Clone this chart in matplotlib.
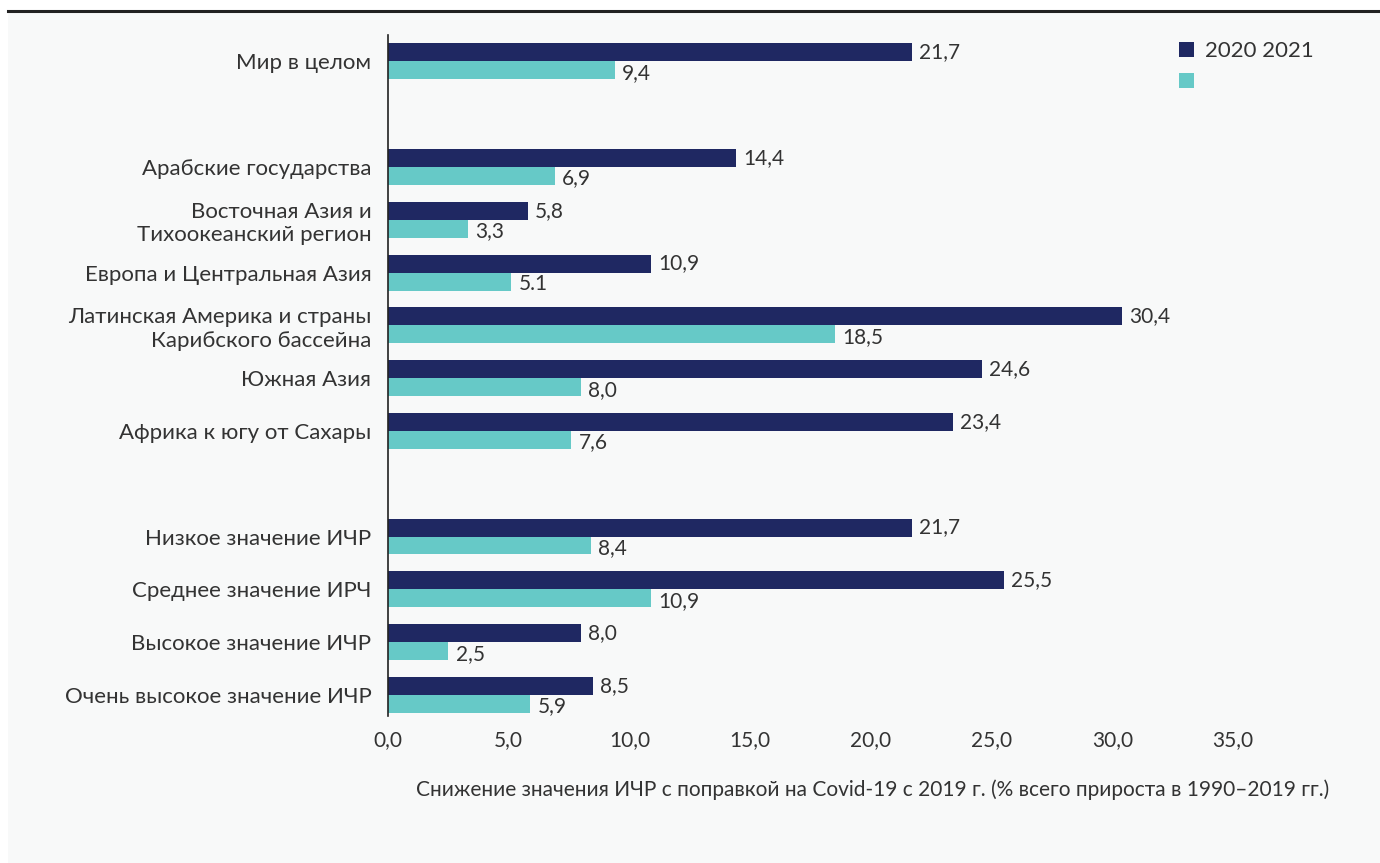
import matplotlib
matplotlib.use('Agg')
import matplotlib.pyplot as plt
import matplotlib.patches as mpatches
import numpy as np

plt.rcParams['font.family'] = ['Lato', 'Noto Sans', 'DejaVu Sans']

# Data (slot index on the y axis: gaps at 1 and 8)
categories = ['Мир в целом',
              'Арабские государства',
              'Восточная Азия и\nТихоокеанский регион',
              'Европа и Центральная Азия',
              'Латинская Америка и страны\nКарибского бассейна',
              'Южная Азия',
              'Африка к югу от Сахары',
              'Низкое значение ИЧР',
              'Среднее значение ИРЧ',
              'Высокое значение ИЧР',
              'Очень высокое значение ИЧР']
slots = [0, 2, 3, 4, 5, 6, 7, 9, 10, 11, 12]
vals_2020 = [21.7, 14.4, 5.8, 10.9, 30.4, 24.6, 23.4, 21.7, 25.5, 8.0, 8.5]
vals_2021 = [9.4, 6.9, 3.3, 5.1, 18.5, 8.0, 7.6, 8.4, 10.9, 2.5, 5.9]
labels_2020 = ['21,7', '14,4', '5,8', '10,9', '30,4', '24,6', '23,4', '21,7', '25,5', '8,0', '8,5']
labels_2021 = ['9,4', '6,9', '3,3', '5.1', '18,5', '8,0', '7,6', '8,4', '10,9', '2,5', '5,9']
xticks = [0, 5, 10, 15, 20, 25, 30, 35]

c_dark = '#1f2862'
c_teal = '#66c9c7'
txt = '#333333'
bg = '#f8f9f9'
fs = 15

W, H = 1380, 863
fig = plt.figure(figsize=(W / 100, H / 100), dpi=100, facecolor='white')

# panel background + top rule
fig.patches.append(mpatches.Rectangle((8 / W, 0), 1 - 8 / W, 1 - 12 / H,
                                      transform=fig.transFigure, facecolor=bg,
                                      edgecolor='none', zorder=-5))
fig.add_artist(plt.Line2D([8 / W, 1], [1 - 11 / H, 1 - 11 / H],
                          transform=fig.transFigure, color='#222222', lw=2.2))

ax = fig.add_axes([388 / W, 1 - 716 / H, (1233 - 388) / W, (716 - 35) / H])
ax.set_facecolor('none')

y = np.array(slots, dtype=float)
bh = 0.34
ax.barh(y - bh / 2, vals_2020, height=bh, color=c_dark, label='2020 2021')
ax.barh(y + bh / 2, vals_2021, height=bh, color=c_teal, label=' ')

for yy, v, s in zip(y, vals_2020, labels_2020):
    ax.text(v + 0.3, yy - bh / 2, s, va='center', ha='left', fontsize=fs, color=txt)
for yy, v, s in zip(y, vals_2021, labels_2021):
    ax.text(v + 0.3, yy + bh / 2 + 0.05, s, va='center', ha='left', fontsize=fs, color=txt)

ax.set_xlim(0, 35)
ax.set_ylim(12.4, -0.5)
ax.set_yticks(y)
ax.set_yticklabels(categories, fontsize=16, color=txt)
ax.set_xticks(xticks)
ax.set_xticklabels([f'{t:.1f}'.replace('.', ',') for t in xticks], fontsize=fs, color=txt)
ax.tick_params(axis='both', length=0)
ax.tick_params(axis='y', pad=12)
ax.tick_params(axis='x', pad=10)
for sp in ['top', 'right', 'bottom']:
    ax.spines[sp].set_visible(False)
ax.spines['left'].set_color('#222222')
ax.spines['left'].set_linewidth(1.2)

leg = ax.legend(loc='upper left', bbox_to_anchor=(0.912, 1.02), frameon=False,
                fontsize=16, handlelength=0.7, handleheight=0.7, handletextpad=0.5,
                labelspacing=0.5, labelcolor=txt)

fig.text(873 / W, 1 - 790 / H,
         'Снижение значения ИЧР с поправкой на Covid-19 с 2019 г. (% всего прироста в 1990–2019 гг.)',
         ha='center', va='center', fontsize=fs, color=txt)

fig.savefig('out.png', dpi=100, facecolor='white')
